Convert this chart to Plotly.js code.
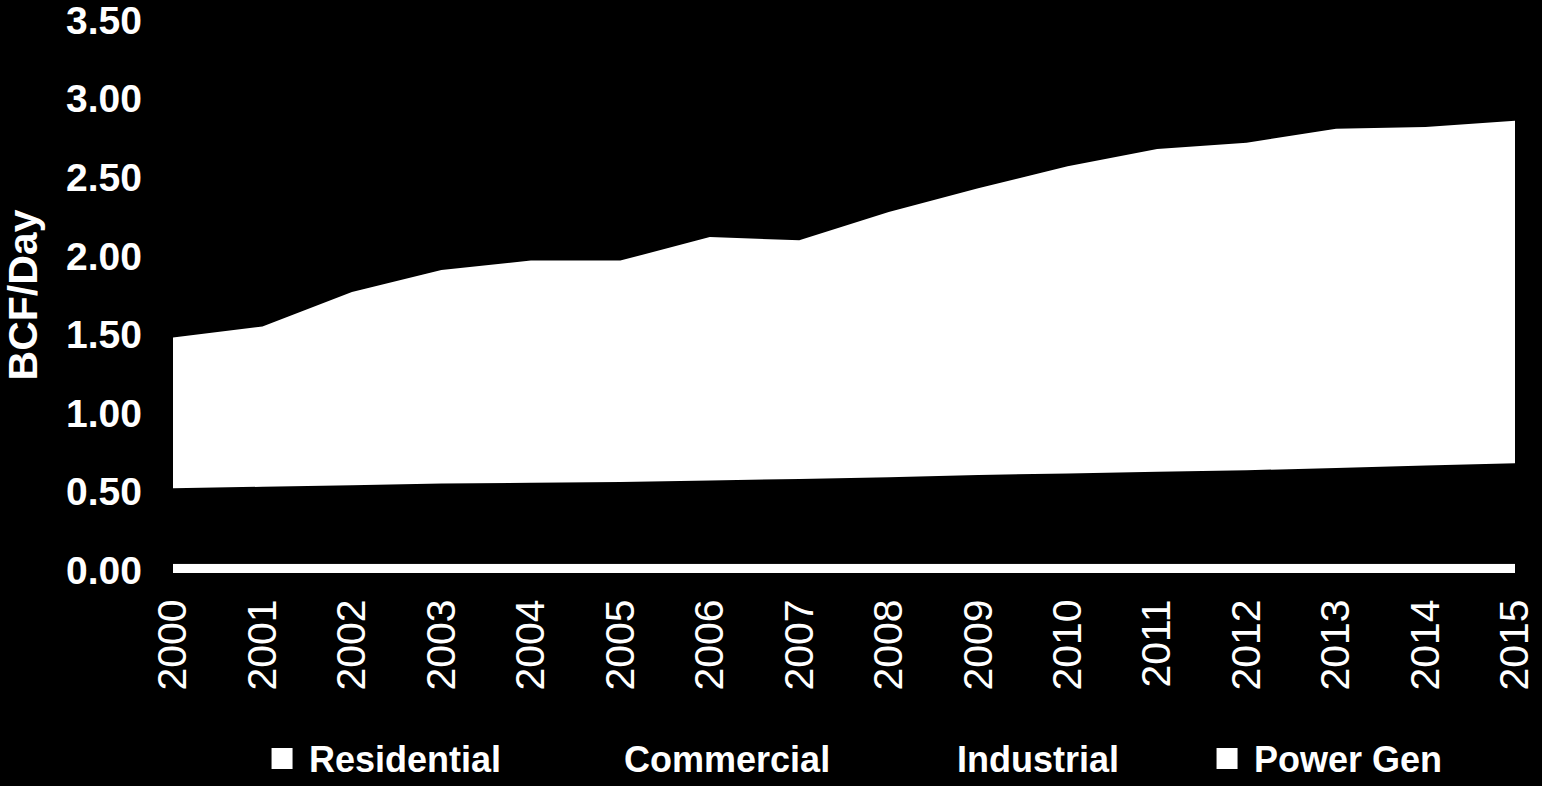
<!DOCTYPE html>
<html>
<head>
<meta charset="utf-8">
<script src="https://cdn.plot.ly/plotly-3.0.1.min.js"></script>
<style>
html,body{margin:0;padding:0;background:#000;}
#chart{width:1542px;height:786px;}
</style>
</head>
<body>
<div id="chart"></div>
<script>
var years = [2000,2001,2002,2003,2004,2005,2006,2007,2008,2009,2010,2011,2012,2013,2014,2015];
var yearLabels = ["2000","2001","2002","2003","2004","2005","2006","2007","2008","2009","2010","2011","2012","2013","2014","2015"];
var yTickVals = [0,0.5,1,1.5,2,2.5,3,3.5];
var yTickLabels = ["0.00","0.50","1.00","1.50","2.00","2.50","3.00","3.50"];
var residential = [0.04,0.04,0.04,0.04,0.04,0.04,0.04,0.04,0.04,0.04,0.04,0.04,0.04,0.04,0.04,0.04];
var commercial  = [0.20,0.20,0.21,0.21,0.21,0.22,0.22,0.22,0.23,0.23,0.23,0.24,0.24,0.24,0.25,0.25];
var industrial  = [0.28,0.29,0.29,0.30,0.305,0.30,0.31,0.32,0.32,0.335,0.345,0.345,0.355,0.37,0.375,0.39];
var powerGen    = [0.96,1.02,1.23,1.36,1.415,1.41,1.55,1.52,1.69,1.825,1.955,2.055,2.085,2.16,2.155,2.18];
var seriesNames = ["Residential","Commercial","Industrial","Power Gen"];
var seriesColors = ["#ffffff","#000000","#000000","#ffffff"];
var legendWidths = [256,274,238,0];

var seriesData = [residential, commercial, industrial, powerGen];
var traces = [];
for (var i = 0; i < seriesData.length; i++) {
  traces.push({
    type: 'scatter', x: years, y: seriesData[i], name: seriesNames[i],
    stackgroup: 'one', mode: 'none', fillcolor: seriesColors[i],
    line: {width: 0}, showlegend: false, hoverinfo: 'skip'
  });
}
for (var j = 0; j < seriesNames.length; j++) {
  traces.push({
    type: 'scatter', x: [null], y: [null], name: seriesNames[j], mode: 'markers',
    marker: {symbol: 'square', size: 16, color: seriesColors[j], line: {width: 5, color: seriesColors[j]}},
    showlegend: true, legendwidth: legendWidths[j] || undefined
  });
}

var layout = {
  width: 1542, height: 786,
  paper_bgcolor: '#000000', plot_bgcolor: '#000000',
  margin: {l: 173, r: 27, t: 20, b: 216},
  showlegend: true,
  xaxis: {
    range: [2000, 2015], tickvals: years, ticktext: yearLabels, tickangle: -90,
    showgrid: false, zeroline: false, showline: true, linecolor: '#ffffff', linewidth: 3,
    ticks: '', ticklabelstandoff: 10, ticklabeloverflow: 'allow',
    tickfont: {family: 'Liberation Sans, Arial, sans-serif', size: 41, color: '#ffffff'}
  },
  yaxis: {
    range: [0, 3.502], tickvals: yTickVals, ticktext: yTickLabels,
    showgrid: false, zeroline: false, showline: false, ticks: '', ticklabelstandoff: 30,
    ticklabeloverflow: 'allow',
    tickfont: {family: 'Liberation Sans, Arial, sans-serif', size: 39, color: '#ffffff', weight: 'bold'},
    title: {text: 'BCF/Day', standoff: 26, font: {family: 'Liberation Sans, Arial, sans-serif', size: 41, color: '#ffffff', weight: 'bold'}}
  },
  legend: {
    orientation: 'h', xref: 'container', yref: 'container', x: 0.1654, y: 0.035,
    xanchor: 'left', yanchor: 'middle', bgcolor: 'rgba(0,0,0,0)', borderwidth: 0,
    itemwidth: 44, traceorder: 'normal',
    font: {family: 'Liberation Sans, Arial, sans-serif', size: 36, color: '#ffffff', weight: 'bold'}
  }
};

Plotly.newPlot('chart', traces, layout, {displayModeBar: false, staticPlot: true});
</script>
</body>
</html>
